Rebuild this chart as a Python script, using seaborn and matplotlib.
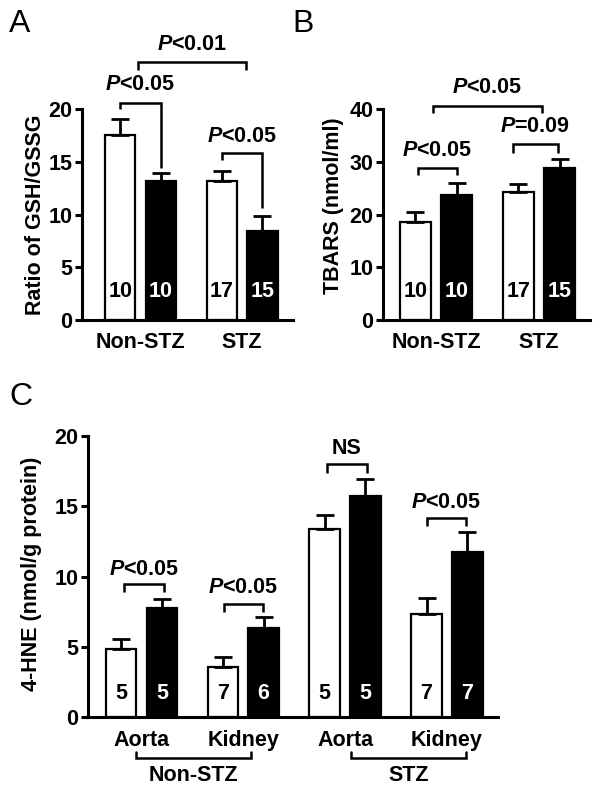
import numpy as np
import pandas as pd
import matplotlib
matplotlib.use("Agg")
import matplotlib.pyplot as plt
import seaborn as sns

# ---- data ----
treatments = ["Control", "Treated"]

# A: GSH/GSSG ratio
a_groups = ["Non-STZ", "STZ"]
a_white = [17.5, 13.2]
a_white_sem = [1.6, 0.9]
a_black = [13.15, 8.4]
a_black_sem = [0.75, 1.5]
a_n_white = [10, 17]
a_n_black = [10, 15]

# B: TBARS
b_groups = ["Non-STZ", "STZ"]
b_white = [18.6, 24.3]
b_white_sem = [1.8, 1.5]
b_black = [23.7, 28.8]
b_black_sem = [2.2, 1.7]
b_n_white = [10, 17]
b_n_black = [10, 15]

# C: 4-HNE
c_groups = ["Non-STZ Aorta", "Non-STZ Kidney", "STZ Aorta", "STZ Kidney"]
c_ticklabels = ["Aorta", "Kidney", "Aorta", "Kidney"]
c_white = [4.84, 3.56, 13.38, 7.33]
c_white_sem = [0.71, 0.71, 1.0, 1.14]
c_black = [7.76, 6.33, 15.73, 11.74]
c_black_sem = [0.64, 0.79, 1.21, 1.43]
c_n_white = [5, 7, 5, 7]
c_n_black = [5, 6, 5, 7]
c_supergroups = ["Non-STZ", "STZ"]
c_super_spans = [(-0.05, 1.08), (2.06, 3.19)]

# significance brackets: x1, x2, y of bar, left leg end, right leg end, label, label y
a_brackets = [(-0.2, 0.2, 20.57, 20.0, 14.4, "$P$<0.05", 22.3),
              (-0.02, 1.04, 24.45, 23.7, 23.7, "$P$<0.01", 26.1),
              (0.8, 1.2, 15.83, 15.17, 10.6, "$P$<0.05", 17.35)]
b_brackets = [(-0.18, 0.2, 28.8, 27.5, 27.5, "$P$<0.05", 32.2),
              (-0.03, 1.03, 40.6, 39.2, 39.2, "$P$<0.05", 44.0),
              (0.75, 1.18, 33.4, 31.7, 31.7, "$P$=0.09", 36.6)]
c_brackets = [(-0.17, 0.22, 9.47, 8.9, 8.9, "$P$<0.05", 10.5),
              (0.81, 1.19, 8.04, 7.47, 7.47, "$P$<0.05", 9.2),
              (1.82, 2.21, 18.0, 17.4, 17.4, "NS", 19.1),
              (2.80, 3.19, 14.17, 13.6, 13.6, "$P$<0.05", 15.3)]

sns.set_style("ticks", {"axes.edgecolor": "black", "text.color": "black",
                        "axes.labelcolor": "black", "xtick.color": "black",
                        "ytick.color": "black"})
plt.rcParams["font.family"] = ["Liberation Sans", "DejaVu Sans"]
plt.rcParams["mathtext.fontset"] = "custom"
plt.rcParams["mathtext.it"] = "Liberation Sans:italic:bold"
plt.rcParams["mathtext.rm"] = "Liberation Sans:bold"
plt.rcParams["mathtext.bf"] = "Liberation Sans:bold"

FS = 15.5
LW = 2.2


def make_df(groups, white, white_sem, black, black_sem, n_white, n_black):
    rows = []
    for g, v, e, n in zip(groups, white, white_sem, n_white):
        rows.append({"group": g, "treat": treatments[0], "value": v, "err": e, "n": n})
    for g, v, e, n in zip(groups, black, black_sem, n_black):
        rows.append({"group": g, "treat": treatments[1], "value": v, "err": e, "n": n})
    return pd.DataFrame(rows)


def draw_panel(ax, df, groups, ymax, yticks, ylabel, xlim, n_y, brackets, label_coords):
    sns.barplot(data=df, x="group", y="value", hue="treat", order=groups,
                hue_order=treatments, palette=["white", "black"], saturation=1,
                edgecolor="black", linewidth=1.6, width=0.8, gap=0.25,
                errorbar=None, legend=False, ax=ax)
    # upper error bars and n labels
    for container, treat in zip(ax.containers, treatments):
        sub = df[df["treat"] == treat].set_index("group").loc[groups]
        for bar, (_, row) in zip(container, sub.iterrows()):
            xc = bar.get_x() + bar.get_width() / 2
            ax.errorbar(xc, row["value"], yerr=[[0], [row["err"]]], fmt="none",
                        ecolor="black", elinewidth=2.0, capsize=6.5, capthick=2.0,
                        zorder=1)
            ax.text(xc, n_y, str(int(row["n"])), ha="center", va="center",
                    fontsize=FS, fontweight="bold",
                    color="black" if treat == treatments[0] else "white")
    # significance brackets
    for x1, x2, yb, yl, yr, lab, ty in brackets:
        ax.plot([x1, x1, x2, x2], [yl, yb, yb, yr], color="black", lw=1.8,
                clip_on=False, solid_capstyle="butt", solid_joinstyle="miter")
        ax.text((x1 + x2) / 2, ty, lab, ha="center", va="center",
                fontsize=FS, fontweight="bold", clip_on=False)
    ax.set_ylim(0, ymax)
    ax.set_xlim(*xlim)
    ax.set_yticks(yticks)
    ax.set_xlabel("")
    ax.set_ylabel(ylabel, fontsize=FS, fontweight="bold")
    ax.yaxis.set_label_coords(*label_coords)
    sns.despine(ax=ax)
    for side in ["left", "bottom"]:
        ax.spines[side].set_linewidth(LW)
    ax.tick_params(axis="y", length=5, width=LW, labelsize=FS, pad=2)
    ax.tick_params(axis="x", length=0, labelsize=FS, pad=9)
    for lab in ax.get_xticklabels() + ax.get_yticklabels():
        lab.set_fontweight("bold")


fig = plt.figure(figsize=(6.01, 7.93), dpi=100)
ax_a = fig.add_axes([0.1364, 0.5965, 0.351, 0.266])
ax_b = fig.add_axes([0.6373, 0.5965, 0.3444, 0.266])
ax_c = fig.add_axes([0.1464, 0.0958, 0.682, 0.3544])

df_a = make_df(a_groups, a_white, a_white_sem, a_black, a_black_sem, a_n_white, a_n_black)
draw_panel(ax_a, df_a, a_groups, 20, [0, 5, 10, 15, 20], "Ratio of GSH/GSSG",
           (-0.576, 1.50), 2.7, a_brackets, (-0.170, 0.5))

df_b = make_df(b_groups, b_white, b_white_sem, b_black, b_black_sem, b_n_white, b_n_black)
draw_panel(ax_b, df_b, b_groups, 40, [0, 10, 20, 30, 40], "TBARS (nmol/ml)",
           (-0.515, 1.495), 5.4, b_brackets, (-0.187, 0.54))

df_c = make_df(c_groups, c_white, c_white_sem, c_black, c_black_sem, c_n_white, c_n_black)
draw_panel(ax_c, df_c, c_groups, 20, [0, 5, 10, 15, 20], "4-HNE (nmol/g protein)",
           (-0.525, 3.50), 1.64, c_brackets, (-0.112, 0.51))
ax_c.set_xticks(range(len(c_groups)))
ax_c.set_xticklabels(c_ticklabels, fontweight="bold", fontsize=FS)
# group brackets under the tissue labels
for (x1, x2), name in zip(c_super_spans, c_supergroups):
    ax_c.plot([x1, x1, x2, x2], [-2.49, -2.92, -2.92, -2.49], color="black", lw=1.8,
              clip_on=False, solid_joinstyle="miter")
    ax_c.text((x1 + x2) / 2, -4.13, name, ha="center", va="center",
              fontsize=FS, fontweight="bold", clip_on=False)

fig.text(0.015, 0.96, "A", fontsize=23, va="baseline")
fig.text(0.487, 0.96, "B", fontsize=23, va="baseline")
fig.text(0.015, 0.489, "C", fontsize=23, va="baseline")

fig.savefig("out.png", dpi=100)
